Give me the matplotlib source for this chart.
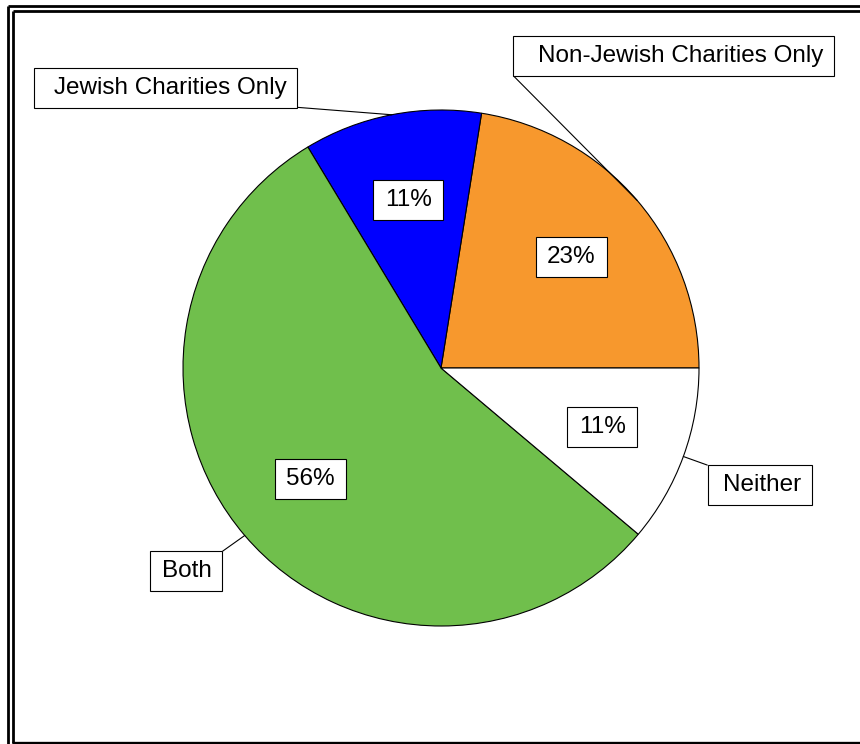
import numpy as np
import matplotlib.pyplot as plt
from matplotlib.lines import Line2D
from matplotlib.path import Path

plt.rcParams['font.family'] = ['Liberation Sans', 'DejaVu Sans']

# slices, counterclockwise from 3 o'clock
categories = ['Non-Jewish Charities Only', 'Jewish Charities Only', 'Both', 'Neither']
shares = [22.6, 11.2, 55.5, 11.2]
colors = ['#F7982D', '#0000FF', '#70BF4C', '#FFFFFF']

# label box placement (data coords, pie radius = 1) and leader start (box corner)
label_xy = [(0.928, 1.209), (-1.047, 1.087), (-0.984, -0.787), (1.244, -0.453)]
label_relpos = [(-0.085, -0.4), (1.044, -0.4), (1.21, 1.4), (-0.2, 1.4)]
label_pads = [(1.0, 0.45), (0.85, 0.42), (0.5, 0.42), (0.62, 0.45)]

W, H = 860, 744
fig = plt.figure(figsize=(W / 100, H / 100), dpi=100)

cx, cy, r = 441, H - 368, 258
ax = fig.add_axes([(cx - r) / W, (cy - r) / H, 2 * r / W, 2 * r / H])


def make_box(left, right, vert=0.37):
    # square box with separate left/right padding (fractions of font size)
    def style(x0, y0, width, height, mutation_size):
        x1 = x0 - left * mutation_size
        x2 = x0 + width + right * mutation_size
        y1 = y0 - vert * mutation_size
        y2 = y0 + height + vert * mutation_size
        return Path([(x1, y1), (x2, y1), (x2, y2), (x1, y2), (x1, y1)], closed=True)
    return dict(boxstyle=style, fc='white', ec='black', lw=0.8)


wedges, texts = ax.pie(shares, colors=colors, startangle=0, counterclock=True,
                       wedgeprops=dict(edgecolor='black', linewidth=0.8))

for w, v in zip(wedges, shares):
    mid = np.deg2rad((w.theta1 + w.theta2) / 2)
    ax.text(0.665 * np.cos(mid), 0.665 * np.sin(mid), f'{v:.0f}%',
            ha='center', va='center', fontsize=17.5, bbox=make_box(0.47, 0.47))

for w, name, xy, rp, (pl, pr) in zip(wedges, categories, label_xy, label_relpos, label_pads):
    mid = np.deg2rad((w.theta1 + w.theta2) / 2)
    ax.annotate(name, xy=(np.cos(mid), np.sin(mid)), xytext=xy,
                ha='center', va='center', fontsize=17.5, bbox=make_box(pl, pr),
                arrowprops=dict(arrowstyle='-', color='black', lw=0.8,
                                relpos=rp, shrinkA=0, shrinkB=0))

ax.set_xlim(-1, 1)
ax.set_ylim(-1, 1)
ax.set_aspect('equal')
ax.axis('off')


# double frame around the chart (cut off at right and bottom)
def px_line(xs, ys, lw):
    fig.add_artist(Line2D([x / W for x in xs], [1 - y / H for y in ys],
                          transform=fig.transFigure, color='black', lw=lw,
                          solid_capstyle='butt'))


px_line([8, 8], [6, H], 2.0)
px_line([8, W], [6, 6], 2.0)
px_line([13, 13], [11, 742.5], 2.0)
px_line([13, W], [11, 11], 2.0)
px_line([12, W], [742.5, 742.5], 2.4)

fig.savefig('out.png', dpi=100)
